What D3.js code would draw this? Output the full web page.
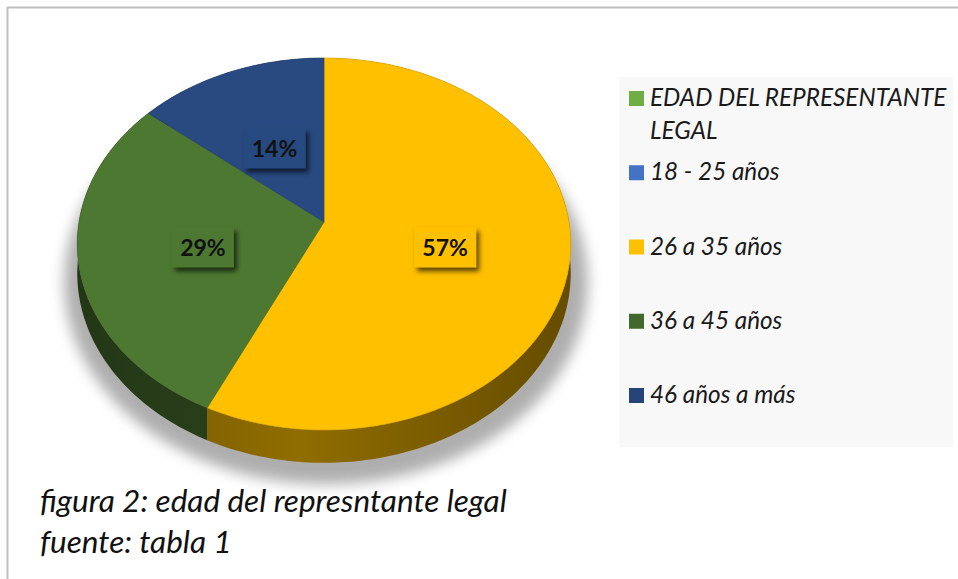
<!DOCTYPE html>
<html>
<head>
<meta charset="utf-8">
<script src="https://cdn.jsdelivr.net/npm/d3@7"></script>
<style>
  html, body { margin: 0; padding: 0; background: #fff; }
  svg { display: block; font-family: Lato, "Open Sans", sans-serif; }
</style>
</head>
<body>
<div id="chart"></div>
<script>
// Slices (18 - 25 años has no cases, so it draws nothing)
const sliceLabels = ['18 - 25 años', '26 a 35 años', '36 a 45 años', '46 años a más'];
const sliceValues = [0, 57, 29, 14];
const sliceColors = ['#4472c4', '#ffc000', '#4d7831', '#284a80'];

// Legend entries (series title first, as in the source sheet)
const legendLabels = [['EDAD DEL REPRESENTANTE', 'LEGAL'], ['18 - 25 años'], ['26 a 35 años'], ['36 a 45 años'], ['46 años a más']];
const legendColors = ['#70ad47', '#4472c4', '#ffc000', '#43682b', '#264478'];

const captionLines = ['figura 2: edad del represntante legal', 'fuente: tabla 1'];

const width = 958, height = 579;

const svg = d3.select('#chart').append('svg')
  .attr('width', width)
  .attr('height', height);

const defs = svg.append('defs');

defs.append('filter').attr('id', 'pie-shadow')
  .attr('x', '-20%').attr('y', '-20%').attr('width', '140%').attr('height', '140%')
  .append('feGaussianBlur').attr('stdDeviation', 7);

const lblShadow = defs.append('filter').attr('id', 'label-shadow')
  .attr('x', '-30%').attr('y', '-30%').attr('width', '160%').attr('height', '160%');
lblShadow.append('feDropShadow')
  .attr('dx', 3).attr('dy', 4).attr('stdDeviation', 2.5)
  .attr('flood-color', '#000').attr('flood-opacity', 0.65);

// frame (top and left edges only are visible in the source)
svg.append('line').attr('x1', 7).attr('x2', width).attr('y1', 7.5).attr('y2', 7.5)
  .attr('stroke', '#bfbfbf').attr('stroke-width', 2);
svg.append('line').attr('x1', 7.5).attr('x2', 7.5).attr('y1', 7).attr('y2', height)
  .attr('stroke', '#bfbfbf').attr('stroke-width', 2);

// Perspective projection of a tilted disc
const cx = 324, cy = 222;
const R = 245, S = 183.4, K = 0.118, H = 29;

function proj(theta, f = 1, down = 0) {
  const s = Math.sin(theta), c = Math.cos(theta);
  const w = 1 + K * f * c;
  return [cx + R * f * s / w, cy - S * f * c / w + down / w];
}

function arcPoints(a0, a1, down = 0, f = 1) {
  const n = Math.max(2, Math.ceil(Math.abs(a1 - a0) / (Math.PI / 180)));
  return d3.range(n + 1).map(i => proj(a0 + (a1 - a0) * i / n, f, down));
}

const line = d3.line();

const pie = d3.pie().sort(null).value(d => d);
const arcs = pie(sliceValues).map((a, i) => ({ ...a, label: sliceLabels[i], color: sliceColors[i] }))
  .filter(a => a.value > 0);

// soft shadow under the pie
const shadowPts = arcPoints(0, 2 * Math.PI, H + 6, 1.06);
svg.append('path')
  .attr('d', line(shadowPts) + 'Z')
  .attr('transform', 'translate(2,0)')
  .attr('fill', '#a6a6a6')
  .attr('opacity', 0.9)
  .attr('filter', 'url(#pie-shadow)');

// side walls
arcs.forEach((a, i) => {
  const c = d3.color(a.color);
  const id = 'wall-' + i;
  const g = defs.append('linearGradient').attr('id', id)
    .attr('gradientUnits', 'userSpaceOnUse')
    .attr('x1', cx - R).attr('x2', cx + R).attr('y1', 0).attr('y2', 0);
  g.append('stop').attr('offset', 0).attr('stop-color', c.darker(2.2));
  g.append('stop').attr('offset', 0.45).attr('stop-color', c.darker(1.6));
  g.append('stop').attr('offset', 1).attr('stop-color', c.darker(2.6));

  const top = arcPoints(a.startAngle, a.endAngle);
  const bottom = arcPoints(a.startAngle, a.endAngle, H).reverse();
  svg.append('path')
    .attr('d', line(top.concat(bottom)) + 'Z')
    .attr('fill', `url(#${id})`);
});

// top faces
svg.selectAll('path.slice')
  .data(arcs)
  .join('path')
  .attr('class', 'slice')
  .attr('d', d => line([[cx, cy]].concat(arcPoints(d.startAngle, d.endAngle))) + 'Z')
  .attr('fill', d => d.color)
  .attr('stroke', d => d3.color(d.color).darker(0.4))
  .attr('stroke-width', 0.6);

// data labels
const total = d3.sum(sliceValues);
const labels = svg.selectAll('g.label')
  .data(arcs)
  .join('g')
  .attr('class', 'label')
  .attr('transform', d => {
    const [x, y] = proj((d.startAngle + d.endAngle) / 2, 0.5);
    return `translate(${x},${y + 5})`;
  });

labels.append('rect')
  .attr('x', -31).attr('y', -20).attr('width', 62).attr('height', 40)
  .attr('fill', d => d.color)
  .attr('filter', 'url(#label-shadow)');

labels.append('text')
  .attr('text-anchor', 'middle')
  .attr('dy', '0.36em')
  .attr('font-size', 23)
  .attr('font-weight', 700)
  .attr('fill', '#111')
  .text(d => Math.round(d.value / total * 100) + '%');

// legend
svg.append('rect')
  .attr('x', 619).attr('y', 77).attr('width', 334).attr('height', 370)
  .attr('fill', '#f8f8f8');

const legendY = d3.scalePoint()
  .domain(d3.range(legendLabels.length))
  .range([98.5, 395.5]);

const legend = svg.selectAll('g.legend')
  .data(legendLabels)
  .join('g')
  .attr('class', 'legend')
  .attr('transform', (d, i) => `translate(629,${legendY(i)})`);

legend.append('rect')
  .attr('x', 0).attr('y', -7.5).attr('width', 15).attr('height', 15)
  .attr('fill', (d, i) => legendColors[i]);

legend.append('text')
  .attr('x', 21)
  .attr('font-size', 24.3)
  .attr('font-style', 'italic')
  .attr('fill', '#1a1a1a')
  .selectAll('tspan')
  .data(d => d)
  .join('tspan')
  .attr('x', 21)
  .attr('y', (d, j) => 7.5 + j * 33)
  .text(d => d);

// caption
svg.append('text')
  .attr('font-size', 31.5)
  .attr('font-style', 'italic')
  .attr('fill', '#111')
  .selectAll('tspan')
  .data(captionLines)
  .join('tspan')
  .attr('x', 40)
  .attr('y', (d, i) => 512 + i * 41)
  .text(d => d);
</script>
</body>
</html>
